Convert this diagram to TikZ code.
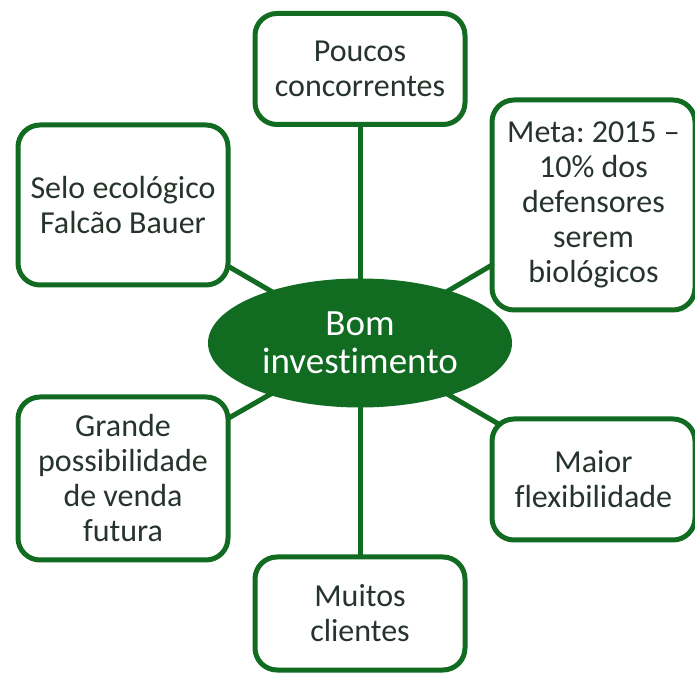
\documentclass[tikz,border=0pt]{standalone}
\usepackage{fontspec}
\setmainfont{Carlito}[Ligatures={TeX,NoCommon}]
\frenchspacing
\usetikzlibrary{shapes.geometric,backgrounds}
\definecolor{leaf}{RGB}{17,108,34}
\definecolor{ink}{RGB}{38,52,44}

\begin{document}
\begin{tikzpicture}[x=1pt, y=1pt,
        idea/.style={draw=leaf, line width=5pt, rounded corners=22pt, fill=white, align=center, text=ink,
            font=\fontsize{32}{35}\selectfont, inner sep=0pt, minimum width=210pt},
        hub/.style={ellipse, fill=leaf, text=white, align=center, font=\fontsize{37}{38}\selectfont,
            inner sep=0pt, minimum width=304pt, minimum height=129pt},
        link/.style={draw=leaf, line width=5pt}]
        \useasboundingbox (0,0) rectangle (695,674);

        \node[hub] (hub) at (360,331) {Bom\\investimento};

        \node[idea, minimum height=111pt] (top) at (360,605) {Poucos\\concorrentes};
        \node[idea, minimum height=160pt] (selo) at (123,469) {Selo ecológico\\Falcão Bauer};
        \node[idea, minimum width=203pt, minimum height=210pt] (meta) at (593.5,469) {Meta: 2015 --\\10\% dos\\defensores\\serem\\biológicos};
        \node[idea, minimum height=163pt] (venda) at (123,195.5) {Grande\\possibilidade\\de venda\\futura};
        \node[idea, minimum width=203pt, minimum height=121pt] (flex) at (593.5,194.5) {Maior\\flexibilidade};
        \node[idea, minimum height=113pt] (clientes) at (360,60.5) {Muitos\\clientes};

        % spokes behind the boxes
        \begin{scope}[on background layer]
            \foreach \n in {top, selo, meta, venda, flex, clientes}
                \draw[link] (hub.center) -- (\n.center);
        \end{scope}
    \end{tikzpicture}
\end{document}
